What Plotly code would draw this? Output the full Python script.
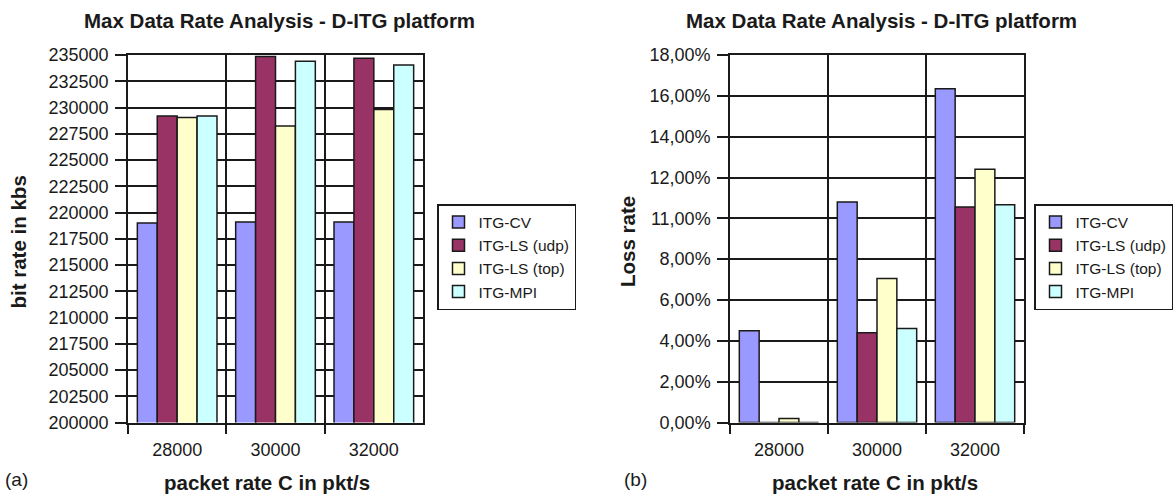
import plotly.graph_objects as go

# ---------------- data ----------------
categories = ["28000", "30000", "32000"]
series_names = ["ITG-CV", "ITG-LS (udp)", "ITG-LS (top)", "ITG-MPI"]
series_colors = ["#9999FF", "#993366", "#FFFFCC", "#CCFFFF"]

bitrate_cv = [219000, 219100, 219100]
bitrate_ls_udp = [229200, 234850, 234700]
bitrate_ls_tcp = [229050, 228250, 229800]
bitrate_mpi = [229200, 234400, 234050]

loss_cv = [0.0450, 0.1080, 0.1635]
loss_ls_udp = [0.0, 0.0440, 0.1055]
loss_ls_tcp = [0.0020, 0.0705, 0.1240]
loss_mpi = [0.0, 0.0460, 0.1067]

bitrate_tickvals = [200000, 202500, 205000, 207500, 210000, 212500, 215000,
                    217500, 220000, 222500, 225000, 227500, 230000, 232500, 235000]
bitrate_ticktext = ["200000", "202500", "205000", "217500", "210000", "212500", "215000",
                    "217500", "220000", "222500", "225000", "227500", "230000", "232500", "235000"]
loss_tickvals = [0.0, 0.02, 0.04, 0.06, 0.08, 0.10, 0.12, 0.14, 0.16, 0.18]
loss_ticktext = ["0,00%", "2,00%", "4,00%", "6,00%", "8,00%", "11,00%",
                 "12,00%", "14,00%", "16,00%", "18,00%"]

title_text = "Max Data Rate Analysis - D-ITG platform"
xtitle_text = "packet rate C in pkt/s"

# ---------------- figure ----------------
W, H = 1173, 498
FONT = "Liberation Sans, Arial, sans-serif"
INK = "#1a1a1a"

fig = go.Figure()

bit_series = [bitrate_cv, bitrate_ls_udp, bitrate_ls_tcp, bitrate_mpi]
loss_series = [loss_cv, loss_ls_udp, loss_ls_tcp, loss_mpi]

for name, color, vals in zip(series_names, series_colors, bit_series):
    fig.add_trace(go.Bar(x=categories, y=vals, name=name, xaxis="x", yaxis="y",
                         marker=dict(color=color, line=dict(color=INK, width=1.5)),
                         legend="legend"))
for name, color, vals in zip(series_names, series_colors, loss_series):
    fig.add_trace(go.Bar(x=categories, y=vals, name=name, xaxis="x2", yaxis="y2",
                         marker=dict(color=color, line=dict(color=INK, width=1.5)),
                         legend="legend2"))

def px_x(p):
    return p / W

def px_y(p):
    return 1 - p / H

common_x = dict(type="category", tickson="boundaries", showgrid=True, gridcolor=INK,
                gridwidth=1.5, ticks="outside", ticklen=10, tickcolor=INK, tickwidth=1.5,
                showline=True, linecolor=INK, linewidth=1.5, mirror=True,
                tickfont=dict(family=FONT, size=18, color=INK), zeroline=False,
                ticklabelstandoff=10, automargin=False)
common_y = dict(showgrid=True, gridcolor=INK, gridwidth=1.5, ticks="outside", ticklen=11,
                tickcolor=INK, tickwidth=1.5, showline=True, linecolor=INK, linewidth=1.5,
                mirror=True, tickfont=dict(family=FONT, size=18, color=INK),
                zeroline=False, ticklabelstandoff=3, automargin=False)

ydom = [px_y(422.5), px_y(55)]

fig.update_layout(
    width=W, height=H, autosize=False,
    margin=dict(l=0, r=0, t=0, b=0, autoexpand=False),
    paper_bgcolor="white", plot_bgcolor="white",
    barmode="group", bargap=0.19, bargroupgap=0,
    font=dict(family=FONT, color=INK),
    xaxis=dict(domain=[px_x(128), px_x(423)], anchor="y", **common_x),
    yaxis=dict(domain=ydom, anchor="x", range=[200000, 235000],
               tickvals=bitrate_tickvals, ticktext=bitrate_ticktext, **common_y),
    xaxis2=dict(domain=[px_x(730), px_x(1024)], anchor="y2", **common_x),
    yaxis2=dict(domain=ydom, anchor="x2", range=[0, 0.18],
                tickvals=loss_tickvals, ticktext=loss_ticktext, **common_y),
    legend=dict(x=px_x(437), y=px_y(204), xanchor="left", yanchor="top",
                bgcolor="white", bordercolor=INK, borderwidth=1.5,
                font=dict(family=FONT, size=15.5, color=INK), itemwidth=30,
                traceorder="normal"),
    legend2=dict(x=px_x(1034), y=px_y(204), xanchor="left", yanchor="top",
                 bgcolor="white", bordercolor=INK, borderwidth=1.5,
                 font=dict(family=FONT, size=15.5, color=INK), itemwidth=30,
                 traceorder="normal"),
    showlegend=True,
)

annots = [
    dict(text="<b>" + title_text + "</b>", x=px_x(279), y=px_y(20), size=20.5),
    dict(text="<b>" + title_text + "</b>", x=px_x(881), y=px_y(20), size=20.5),
    dict(text="<b>" + xtitle_text + "</b>", x=px_x(267), y=px_y(482), size=20.5),
    dict(text="<b>" + xtitle_text + "</b>", x=px_x(875), y=px_y(482), size=20.5),
    dict(text="(a)", x=px_x(16), y=px_y(479), size=19),
    dict(text="(b)", x=px_x(635), y=px_y(479), size=19),
]
for a in annots:
    fig.add_annotation(text=a["text"], x=a["x"], y=a["y"], xref="paper", yref="paper",
                       xanchor="center", yanchor="middle", showarrow=False,
                       font=dict(family=FONT, size=a["size"], color=INK))

fig.add_annotation(text="<b>bit rate in kbs</b>", x=px_x(17.5), y=px_y(242), xref="paper",
                   yref="paper", xanchor="center", yanchor="middle", showarrow=False,
                   textangle=-90, font=dict(family=FONT, size=20.5, color=INK))
fig.add_annotation(text="<b>Loss rate</b>", x=px_x(627), y=px_y(242), xref="paper",
                   yref="paper", xanchor="center", yanchor="middle", showarrow=False,
                   textangle=-90, font=dict(family=FONT, size=20.5, color=INK))

fig.write_html("out.html", config={"displayModeBar": False})
